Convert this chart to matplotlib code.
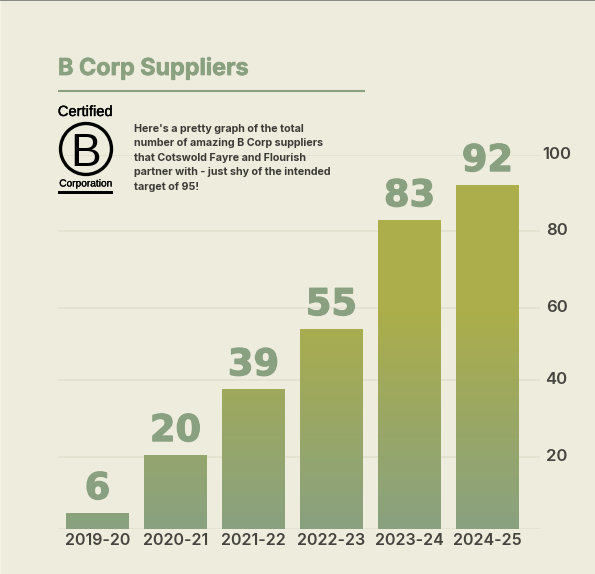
import numpy as np
import matplotlib
matplotlib.use("Agg")
import matplotlib.pyplot as plt
import matplotlib.patheffects as pe
from matplotlib.colors import LinearSegmentedColormap
from matplotlib.patches import Circle, Rectangle
from matplotlib.transforms import ScaledTranslation

# data
years = ["2019-20", "2020-21", "2021-22", "2022-23", "2023-24", "2024-25"]
labels = [6, 20, 39, 55, 83, 92]
# bars in the original are a bit shorter than their labels
heights = [4.3, 19.8, 37.4, 53.5, 82.6, 92]
y_labels = [20, 40, 60, 80, 100]
# gridlines are not quite evenly placed in the original
y_ticks = [19.3, 39.8, 59.1, 79.7, 100]

W, H = 595, 574
BG = "#EEECDC"
GREEN = "#89A180"
OLIVE = "#ABAE4A"
DARK = "#45443F"
FONT = ["Inter", "DejaVu Sans"]


def thicker(text, width, color):
    # the fonts here are lighter than the original, so fatten them a little
    text.set_path_effects([pe.withStroke(linewidth=width, foreground=color)])


fig = plt.figure(figsize=(W / 100, H / 100), dpi=100, facecolor=BG)

# main axes, in pixels: x 58-540, baseline at y=529, 100 at y=155
ax = fig.add_axes([58 / W, (H - 529) / H, (540 - 58) / W, (529 - 155) / H])
ax.set_facecolor("none")
for s in ax.spines.values():
    s.set_visible(False)

for v in [0] + y_ticks:
    ax.axhline(v, color="#E3E2D0", lw=1.2, zorder=0)

# bars, one gradient clipped to each bar
cmap = LinearSegmentedColormap.from_list("bars", [GREEN, OLIVE])
grad = np.linspace(0, 1, 256).reshape(-1, 1)
bars = ax.bar(np.arange(len(years)), heights, width=0.8, color="none", zorder=2)
for b in bars:
    im = ax.imshow(grad, cmap=cmap, origin="lower", aspect="auto", zorder=2,
                   extent=[b.get_x(), b.get_x() + b.get_width(), 0, 58])
    top = ax.imshow(np.ones((2, 2)), cmap=cmap, vmin=0, vmax=1, aspect="auto", zorder=2,
                    extent=[b.get_x(), b.get_x() + b.get_width(), 58, 100])
    im.set_clip_path(b)
    top.set_clip_path(b)
ax.set_xlim(-0.506, 5.674)
ax.set_ylim(0, 100)

for i, (h, lab) in enumerate(zip(heights, labels)):
    t = ax.annotate(str(lab), (i, h), xytext=(0, 10), textcoords="offset points",
                    ha="center", va="baseline", fontsize=26.5, fontweight="bold",
                    color=GREEN, family="DejaVu Sans", zorder=3)
    thicker(t, 0.9, GREEN)

ax.set_xticks(np.arange(len(years)), years)
ax.yaxis.tick_right()
ax.set_yticks(y_ticks, y_labels)
ax.tick_params(length=0, labelcolor=DARK)
ax.tick_params(axis="x", pad=3, labelsize=11.5)
ax.tick_params(axis="y", pad=12, labelsize=12)
for t in ax.get_xticklabels() + ax.get_yticklabels():
    t.set_family(FONT)
    t.set_fontweight("semibold")
# y labels sit centred in a column, a little above their gridlines
nudge = ScaledTranslation(0, 1.5 / 72, fig.dpi_scale_trans)
for t in ax.get_yticklabels():
    t.set_ha("center")
    t.set_transform(t.get_transform() + nudge)

# overlay in picture pixels for the header and logo
ov = fig.add_axes([0, 0, 1, 1], facecolor="none")
ov.set_xlim(0, W)
ov.set_ylim(H, 0)
ov.axis("off")

ov.add_patch(Rectangle((0, 0), W, 1, color="#8C8C86", lw=0))
ov.add_patch(Rectangle((0, 1), 1, H, color="#F4F3E8", lw=0))
title = ov.text(58, 68.5, "B Corp Suppliers", fontsize=16.8, fontweight="bold", color=GREEN,
                family=FONT, va="center", ha="left")
thicker(title, 0.5, GREEN)
ov.plot([58, 365], [91, 91], color=GREEN, lw=1.5, solid_capstyle="butt")

# logo
cert = ov.text(85.5, 112, "Certified", fontsize=10.6, color="black", family="Liberation Sans",
               ha="center", va="center")
thicker(cert, 0.3, "black")
ov.add_patch(Circle((86, 149), 25.5, fill=False, ec="black", lw=2.4))
ov.text(86, 149.5, "B", fontsize=33, color="black", family="Liberation Sans",
        ha="center", va="center_baseline")
corp = ov.text(85.5, 183.5, "Corporation", fontsize=7.3, color="black", family="Liberation Sans",
               ha="center", va="center")
thicker(corp, 0.2, "black")
ov.add_patch(Rectangle((58, 191), 55, 3.4, color="black", lw=0))

blurb = ["Here's a pretty graph of the total",
         "number of amazing B Corp suppliers",
         "that Cotswold Fayre and Flourish",
         "partner with - just shy of the intended",
         "target of 95!"]
for i, line in enumerate(blurb):
    ov.text(134, 129 + i * 14.4, line, fontsize=7.7, fontweight="bold", color="#3C3B38",
            family=FONT, va="center", ha="left")

fig.savefig("out.png", dpi=100, facecolor=BG)
